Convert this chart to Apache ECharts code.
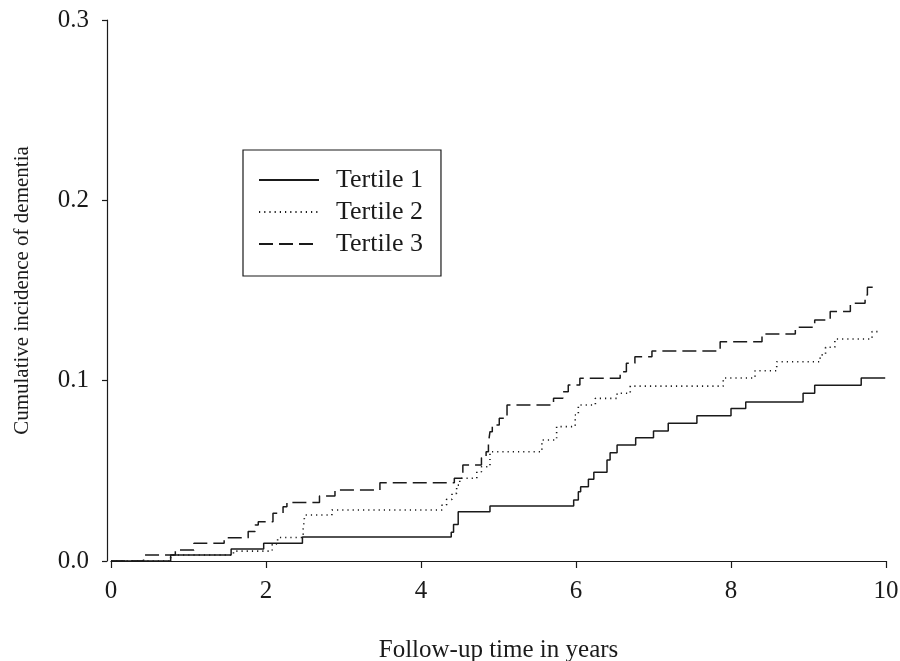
<!DOCTYPE html>
<html>
<head>
<meta charset="utf-8">
<title>Cumulative incidence of dementia by tertile</title>
<script src="https://cdn.jsdelivr.net/npm/echarts@6/dist/echarts.min.js"></script>
<style>
  html, body { margin: 0; padding: 0; background: #ffffff; }
  #chart { width: 900px; height: 661px; }
</style>
</head>
<body>
<div id="chart"></div>
<script>
// Step-function estimates: [follow-up year, cumulative incidence]
const tertile1 = [
  [0, 0], [0.77, 0.0033], [1.55, 0.0066], [1.97, 0.0098], [2.47, 0.0133],
  [4.39, 0.016], [4.42, 0.0203], [4.48, 0.0273], [4.89, 0.0305],
  [5.97, 0.0338], [6.03, 0.0384], [6.06, 0.0412], [6.16, 0.0453], [6.23, 0.0492],
  [6.40, 0.056], [6.44, 0.060], [6.53, 0.0643], [6.77, 0.0684], [7.00, 0.0721],
  [7.19, 0.0764], [7.56, 0.0806], [8.00, 0.0845], [8.19, 0.0882], [8.93, 0.093],
  [9.08, 0.0974], [9.68, 0.1015], [9.99, 0.1015]
];
const tertile2 = [
  [0, 0], [0.77, 0.0033], [1.58, 0.0055], [2.08, 0.0095], [2.15, 0.013],
  [2.48, 0.018], [2.50, 0.0255], [2.85, 0.0283],
  [4.27, 0.031], [4.33, 0.0342], [4.40, 0.0375], [4.46, 0.0421], [4.50, 0.0459],
  [4.72, 0.0495], [4.78, 0.0523], [4.89, 0.0606],
  [5.56, 0.0671], [5.75, 0.0745], [5.99, 0.081], [6.03, 0.0865], [6.25, 0.0902],
  [6.53, 0.093], [6.70, 0.097], [7.90, 0.1015], [8.31, 0.1055], [8.59, 0.1105],
  [9.15, 0.1143], [9.22, 0.1185], [9.34, 0.1231], [9.82, 0.1272], [9.92, 0.1272]
];
const tertile3 = [
  [0, 0], [0.42, 0.0033], [0.83, 0.0061], [1.07, 0.0098], [1.46, 0.0129],
  [1.77, 0.0163], [1.86, 0.020], [1.90, 0.0218], [2.09, 0.0265], [2.22, 0.0301],
  [2.27, 0.0325], [2.69, 0.036], [2.89, 0.0394], [3.47, 0.0434],
  [4.43, 0.0459], [4.54, 0.0532], [4.78, 0.0573], [4.84, 0.0606], [4.87, 0.0653],
  [4.89, 0.0717], [4.92, 0.0754], [5.01, 0.0791], [5.11, 0.0865],
  [5.71, 0.0902], [5.83, 0.0939], [5.90, 0.0976], [6.05, 0.1013],
  [6.57, 0.105], [6.65, 0.1096], [6.76, 0.1133], [6.98, 0.1165],
  [7.86, 0.1216], [8.40, 0.1259], [8.83, 0.1296], [9.08, 0.1337], [9.28, 0.1383],
  [9.54, 0.1429], [9.73, 0.1475], [9.76, 0.1518], [9.90, 0.1518]
];

const seriesNames = ['Tertile 1', 'Tertile 2', 'Tertile 3'];
const seriesData = [tertile1, tertile2, tertile3];
const dashPatterns = ['solid', [1.2, 4], [14, 6]];

const xTicks = [0, 2, 4, 6, 8, 10];
const yTicks = [0.0, 0.1, 0.2, 0.3];

const ink = '#1a1a1a';
const serif = '"Liberation Serif", "DejaVu Serif", serif';

const chart = echarts.init(document.getElementById('chart'), null, { renderer: 'canvas' });

chart.setOption({
  backgroundColor: '#ffffff',
  animation: false,
  textStyle: { fontFamily: serif, color: ink },
  grid: {
    left: 111, right: 14, top: 20, bottom: 100,
    containLabel: false,
    outerBoundsMode: 'none'
  },
  legend: {
    data: seriesNames,
    orient: 'vertical',
    left: 243,
    top: 150,
    backgroundColor: '#ffffff',
    borderColor: ink,
    borderWidth: 1.2,
    borderRadius: 0,
    padding: [17, 18, 19, 15],
    itemWidth: 60,
    itemHeight: 14,
    itemGap: 6,
    selectedMode: false,
    // line-only keys: hide the marker the line icon carries
    itemStyle: { opacity: 0, color: 'transparent', borderWidth: 0 },
    textStyle: { fontFamily: serif, fontSize: 26, color: ink, padding: [0, 0, 0, 12] }
  },
  xAxis: {
    type: 'value',
    min: 0,
    max: 10,
    interval: 2,
    name: 'Follow-up time in years',
    nameLocation: 'middle',
    nameGap: 77,
    nameTextStyle: { fontFamily: serif, fontSize: 25, color: ink },
    axisLine: { show: true, onZero: false, lineStyle: { color: ink, width: 1.2 } },
    axisTick: { show: true, inside: false, length: 7, lineStyle: { color: ink, width: 1.2 } },
    axisLabel: {
      fontFamily: serif, fontSize: 25, color: ink, margin: 18,
      formatter: v => (xTicks.includes(v) ? String(v) : '')
    },
    splitLine: { show: false }
  },
  yAxis: {
    type: 'value',
    min: 0,
    max: 0.3,
    interval: 0.1,
    offset: 4,
    name: 'Cumulative incidence of dementia',
    nameLocation: 'middle',
    nameGap: 74,
    nameTextStyle: { fontFamily: serif, fontSize: 21, color: ink },
    axisLine: { show: true, onZero: false, lineStyle: { color: ink, width: 1.2 } },
    axisTick: { show: true, inside: false, length: 5, lineStyle: { color: ink, width: 1.2 } },
    axisLabel: {
      fontFamily: serif, fontSize: 25, color: ink, margin: 18,
      formatter: v => {
        const hit = yTicks.find(t => Math.abs(t - v) < 1e-9);
        return hit === undefined ? '' : hit.toFixed(1);
      }
    },
    splitLine: { show: false }
  },
  series: seriesNames.map((name, i) => ({
    name: name,
    type: 'line',
    step: 'end',
    data: seriesData[i],
    symbol: 'none',
    showSymbol: false,
    color: ink,
    lineStyle: { color: ink, width: i === 1 ? 1.6 : 1.5, type: dashPatterns[i] },
    emphasis: { disabled: true },
    z: 3 - i
  }))
});
</script>
</body>
</html>
